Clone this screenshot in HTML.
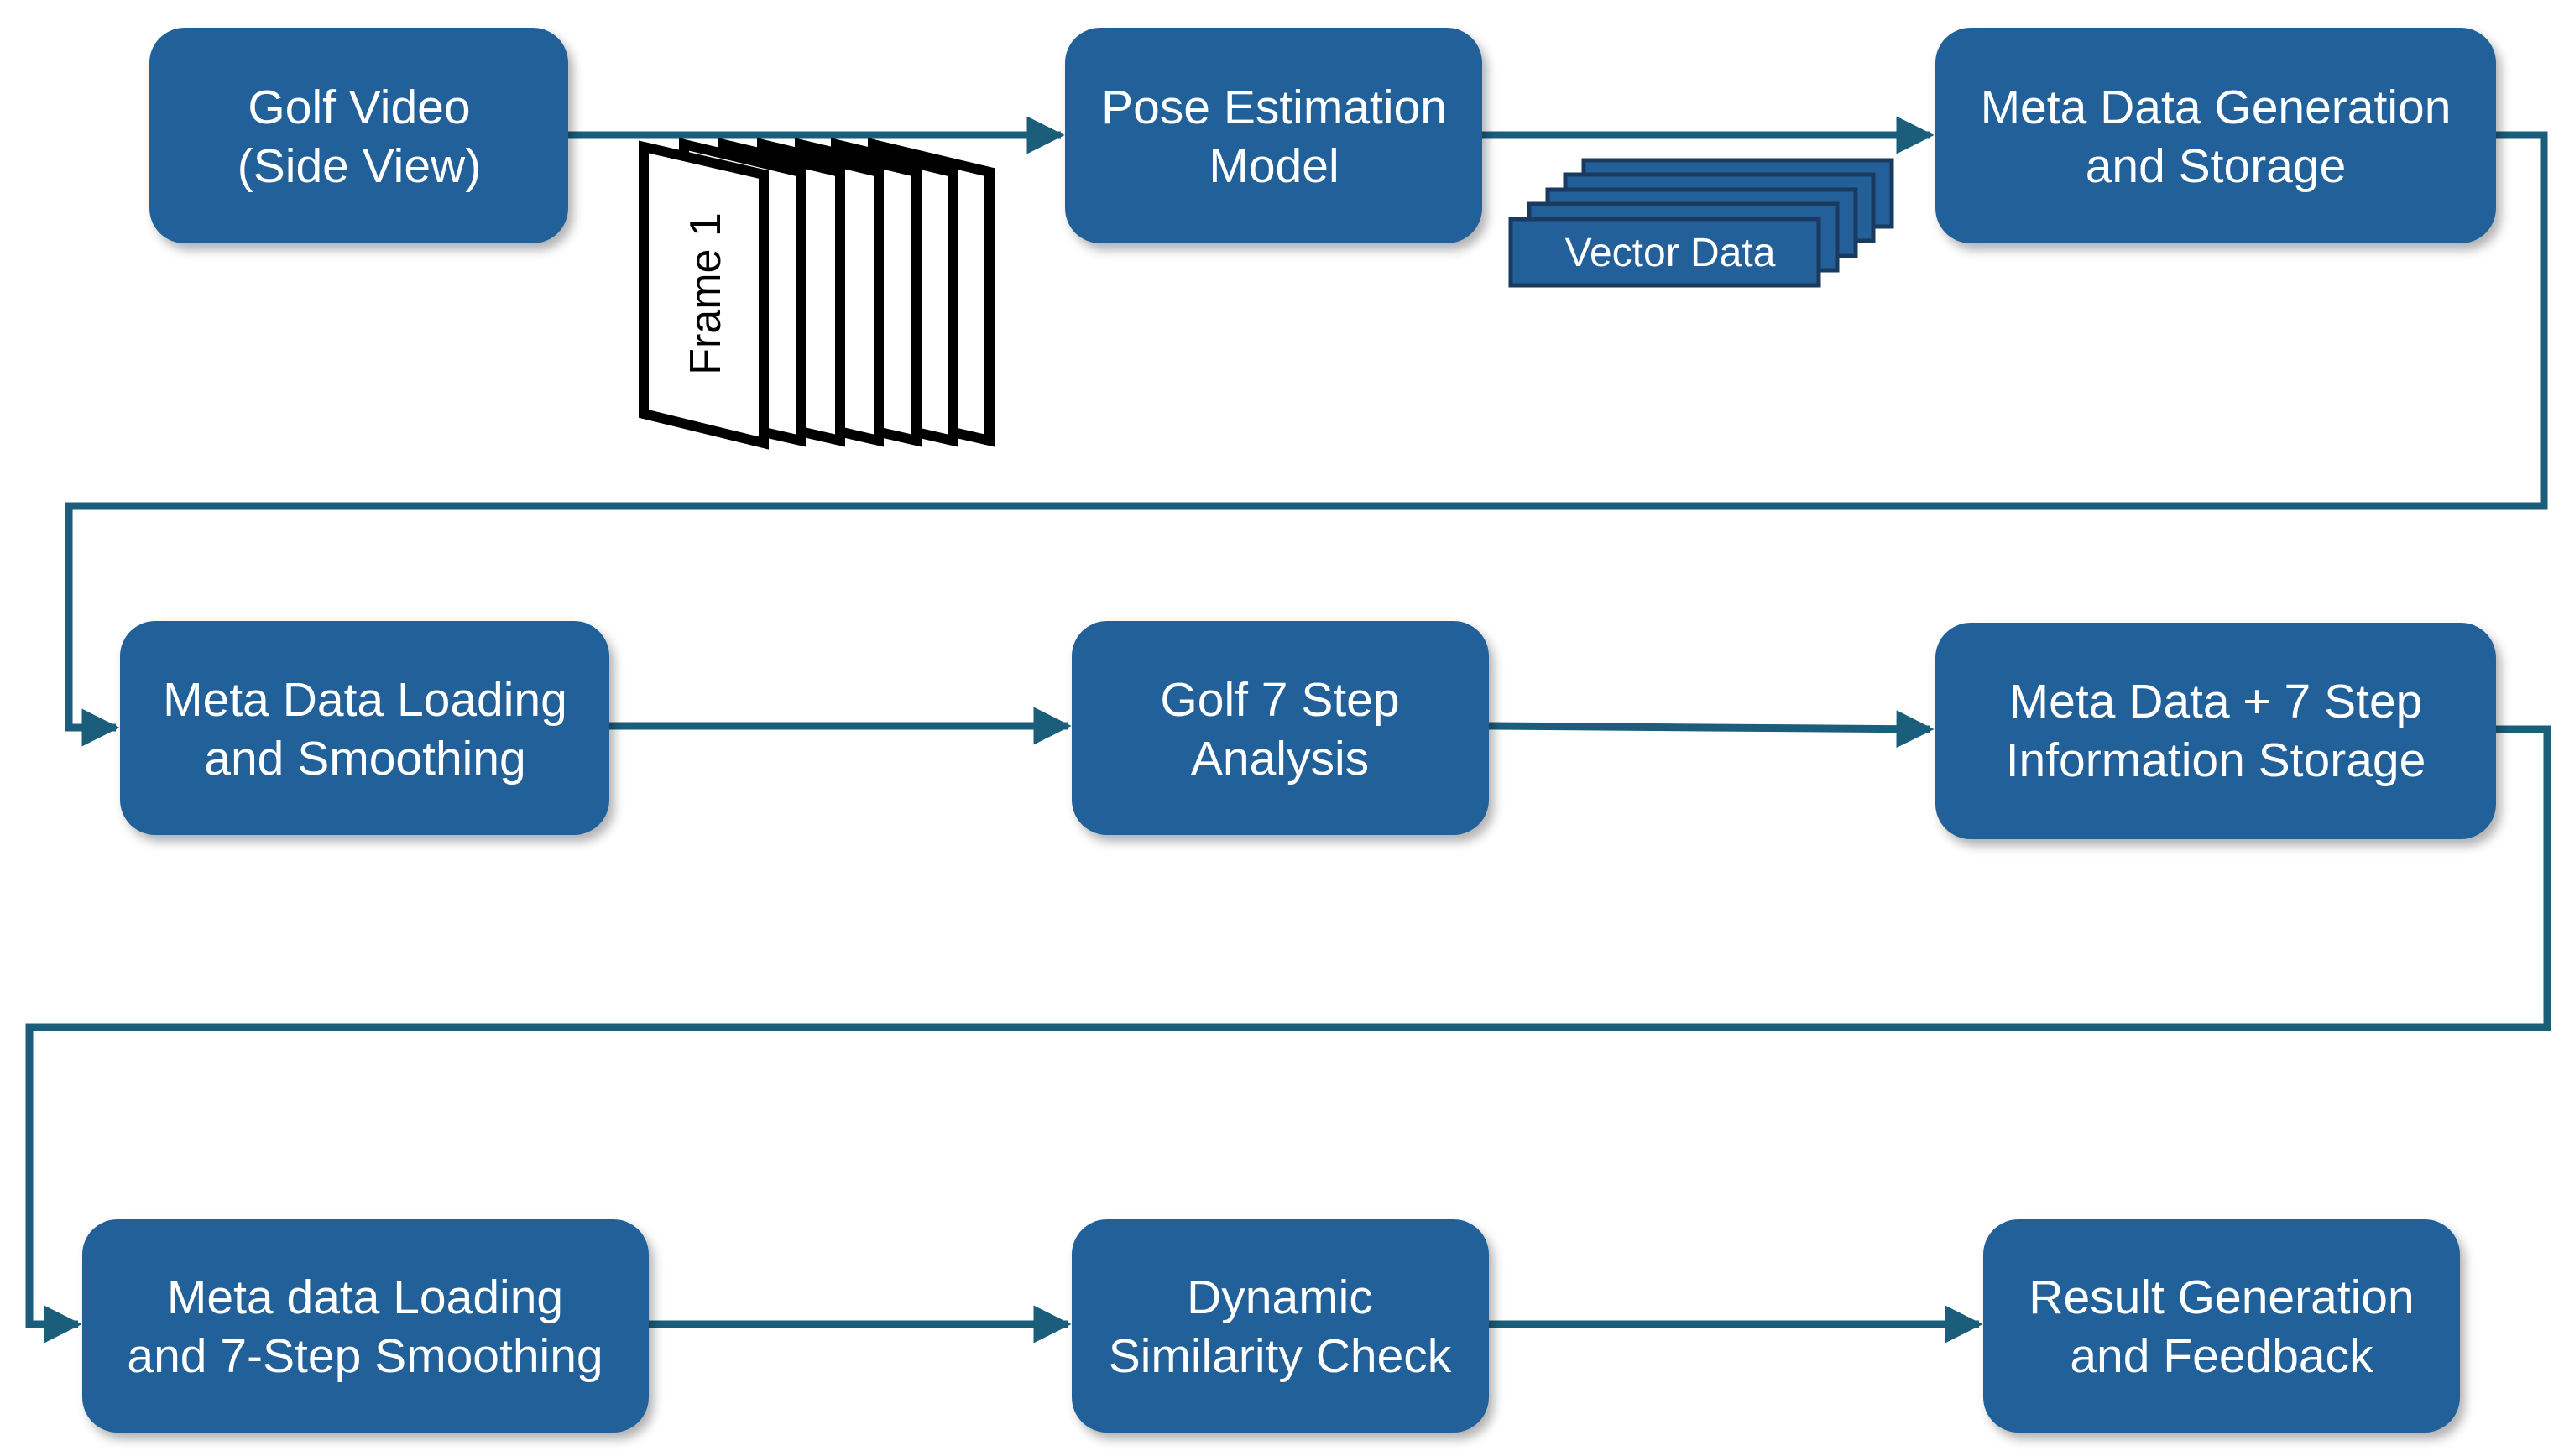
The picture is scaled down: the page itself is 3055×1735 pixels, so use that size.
<!DOCTYPE html>
<html><head><meta charset="utf-8"><style>
html,body{margin:0;padding:0;background:#fff;}
svg{display:block;}
text{font-family:"Liberation Sans","Noto Sans CJK KR",sans-serif;}
</style></head><body>
<svg width="3055" height="1735" viewBox="0 0 3055 1735" xmlns="http://www.w3.org/2000/svg">
<defs>
<filter id="sh" x="-10%" y="-10%" width="130%" height="140%"><feDropShadow dx="6" dy="8" stdDeviation="6" flood-color="#000" flood-opacity="0.3"/></filter>
<marker id="ar" markerWidth="5" markerHeight="5" refX="4.5" refY="2.5" orient="auto" markerUnits="strokeWidth"><path d="M0,0 L5,2.5 L0,5 Z" fill="#1b5e7b"/></marker>
</defs>
<g stroke="#1b5e7b" stroke-width="9" fill="none">
<line x1="677" y1="161" x2="1264" y2="161" marker-end="url(#ar)"/>
<line x1="1766" y1="161" x2="2300" y2="161" marker-end="url(#ar)"/>
<polyline points="2974,161 3031,161 3031,603 82,603 82,867 138,867" marker-end="url(#ar)"/>
<line x1="726" y1="865" x2="1272" y2="865" marker-end="url(#ar)"/>
<line x1="1774" y1="865" x2="2300" y2="869" marker-end="url(#ar)"/>
<polyline points="2974,869 3035,869 3035,1224 35,1224 35,1578 93,1578" marker-end="url(#ar)"/>
<line x1="773" y1="1578" x2="1272" y2="1578" marker-end="url(#ar)"/>
<line x1="1774" y1="1578" x2="2358" y2="1578" marker-end="url(#ar)"/>
</g>
<g stroke="#000" stroke-width="12" fill="#fff" stroke-linejoin="miter">
<polygon points="1040,172 1179,205 1179,525 1040,493"/>
<polygon points="996,172 1135,205 1135,525 996,493"/>
<polygon points="953,172 1092,205 1092,525 953,493"/>
<polygon points="908,172 1047,205 1047,525 908,493"/>
<polygon points="862,172 1001,205 1001,525 862,493"/>
<polygon points="815,172 954,205 954,525 815,493"/>
<polygon points="767,175 910,208 910,528 767,493"/>
</g>
<text x="0" y="0" transform="translate(858,350) rotate(-90)" text-anchor="middle" font-size="52" fill="#000">Frame 1</text>
<g fill="#23609a" stroke="#1a3a5f" stroke-width="5">
<rect x="1887" y="191" width="367" height="79"/>
<rect x="1865" y="208" width="367" height="79"/>
<rect x="1844" y="226" width="367" height="79"/>
<rect x="1822" y="243" width="367" height="79"/>
<rect x="1800" y="261" width="367" height="79"/>
</g>
<text x="1990" y="317" text-anchor="middle" font-size="48" fill="#fff">Vector Data</text>
<g fill="#23609a" filter="url(#sh)">
<rect x="178" y="33" width="499" height="257" rx="42"/>
<rect x="1269" y="33" width="497" height="257" rx="42"/>
<rect x="2306" y="33" width="668" height="257" rx="42"/>
<rect x="143" y="740" width="583" height="255" rx="42"/>
<rect x="1277" y="740" width="497" height="255" rx="42"/>
<rect x="2306" y="742" width="668" height="258" rx="42"/>
<rect x="98" y="1453" width="675" height="254" rx="42"/>
<rect x="1277" y="1453" width="497" height="254" rx="42"/>
<rect x="2363" y="1453" width="568" height="254" rx="42"/>
</g>
<g fill="#fff" font-size="57" text-anchor="middle">
<text x="428" y="147">Golf Video</text><text x="428" y="217">(Side View)</text>
<text x="1518" y="147">Pose Estimation</text><text x="1518" y="217">Model</text>
<text x="2640" y="147">Meta Data Generation</text><text x="2640" y="217">and Storage</text>
<text x="435" y="853">Meta Data Loading</text><text x="435" y="923">and Smoothing</text>
<text x="1525" y="853">Golf 7 Step</text><text x="1525" y="923">Analysis</text>
<text x="2640" y="855">Meta Data + 7 Step</text><text x="2640" y="925">Information Storage</text>
<text x="435" y="1565">Meta data Loading</text><text x="435" y="1635">and 7-Step Smoothing</text>
<text x="1525" y="1565">Dynamic</text><text x="1525" y="1635">Similarity Check</text>
<text x="2647" y="1565">Result Generation</text><text x="2647" y="1635">and Feedback</text>
</g>
</svg>
</body></html>
